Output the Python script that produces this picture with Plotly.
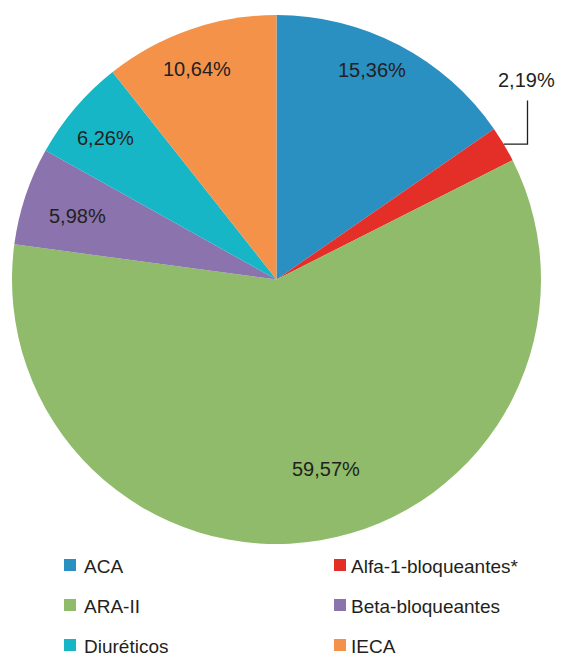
import math
import plotly.graph_objects as go

labels = ["ACA", "Alfa-1-bloqueantes*", "ARA-II", "Beta-bloqueantes", "Diuréticos", "IECA"]
values = [15.36, 2.19, 59.57, 5.98, 6.26, 10.64]
colors = ["#2a8fc1", "#e42e28", "#8fbb6b", "#8b73ad", "#17b6c6", "#f4924a"]

# label placement style: radial fraction and angular nudge (degrees); None = outside with leader
label_r = [0.87, None, 0.74, 0.79, 0.84, 0.85]
label_dtheta = [-3.0, 0.0, -5.0, -0.7, -0.9, -1.6]

W, H = 563, 656
CX, CY, R = 276.5, 279.5, 264.5
TXT = "#231f20"
FONT = "Liberation Sans, Arial, Helvetica"


def px(x, y):
    return x / W, 1 - y / H


dom_x = [(CX - R) / W, (CX + R) / W]
dom_y = [1 - (CY + R) / H, 1 - (CY - R) / H]

fig = go.Figure(go.Pie(
    labels=labels, values=values, sort=False, direction="clockwise", rotation=0,
    marker=dict(colors=colors, line=dict(width=0)),
    textinfo="none", domain=dict(x=dom_x, y=dom_y),
    hoverinfo="label+value", showlegend=False,
))

annotations = []
shapes = []
total = sum(values)
cum = 0.0
for i, v in enumerate(values):
    mid = (cum + v / 2) / total * 360.0
    cum += v
    txt = f"{v:.2f}".replace(".", ",") + "%"
    if label_r[i] is not None:
        a = math.radians(mid + label_dtheta[i])
        x = CX + label_r[i] * R * math.sin(a)
        y = CY - label_r[i] * R * math.cos(a)
    else:
        a = math.radians(mid)
        x0 = CX + R * math.sin(a)
        y0 = CY - R * math.cos(a)
        lx, ly = 527.5, 80.5
        p0 = px(x0, y0)
        p1 = px(lx, y0)
        p2 = px(lx, ly + 20)
        shapes.append(dict(type="path", xref="paper", yref="paper",
                           path=f"M {p0[0]} {p0[1]} L {p1[0]} {p1[1]} L {p2[0]} {p2[1]}",
                           line=dict(color=TXT, width=1.3)))
        x, y = lx - 1, ly
    xp, yp = px(x, y)
    annotations.append(dict(x=xp, y=yp, xref="paper", yref="paper", text=txt,
                            xanchor="center", yanchor="middle", showarrow=False,
                            font=dict(family=FONT, size=20, color=TXT)))

# legend (two columns)
col_x = [64, 334]
col_gap = [6, 3]
row_y0, row_dy, sq = 565, 40, 12
for i, (lab, c) in enumerate(zip(labels, colors)):
    col, row = i % 2, i // 2
    x0 = col_x[col]
    yc = row_y0 + row * row_dy
    a0 = px(x0, yc - sq / 2)
    a1 = px(x0 + sq, yc + sq / 2)
    shapes.append(dict(type="rect", xref="paper", yref="paper",
                       x0=a0[0], x1=a1[0], y0=a1[1], y1=a0[1],
                       fillcolor=c, line=dict(width=0)))
    tp = px(x0 + sq + col_gap[col], yc + 1)
    annotations.append(dict(x=tp[0], y=tp[1], xref="paper", yref="paper", text=lab,
                            xanchor="left", yanchor="middle", showarrow=False,
                            font=dict(family=FONT, size=19, color=TXT)))

fig.update_layout(
    width=W, height=H, margin=dict(l=0, r=0, t=0, b=0),
    paper_bgcolor="white", plot_bgcolor="white",
    annotations=annotations, shapes=shapes,
)
fig.write_html("out.html", config={"displayModeBar": False},
               post_script="document.body.style.margin='0';")
